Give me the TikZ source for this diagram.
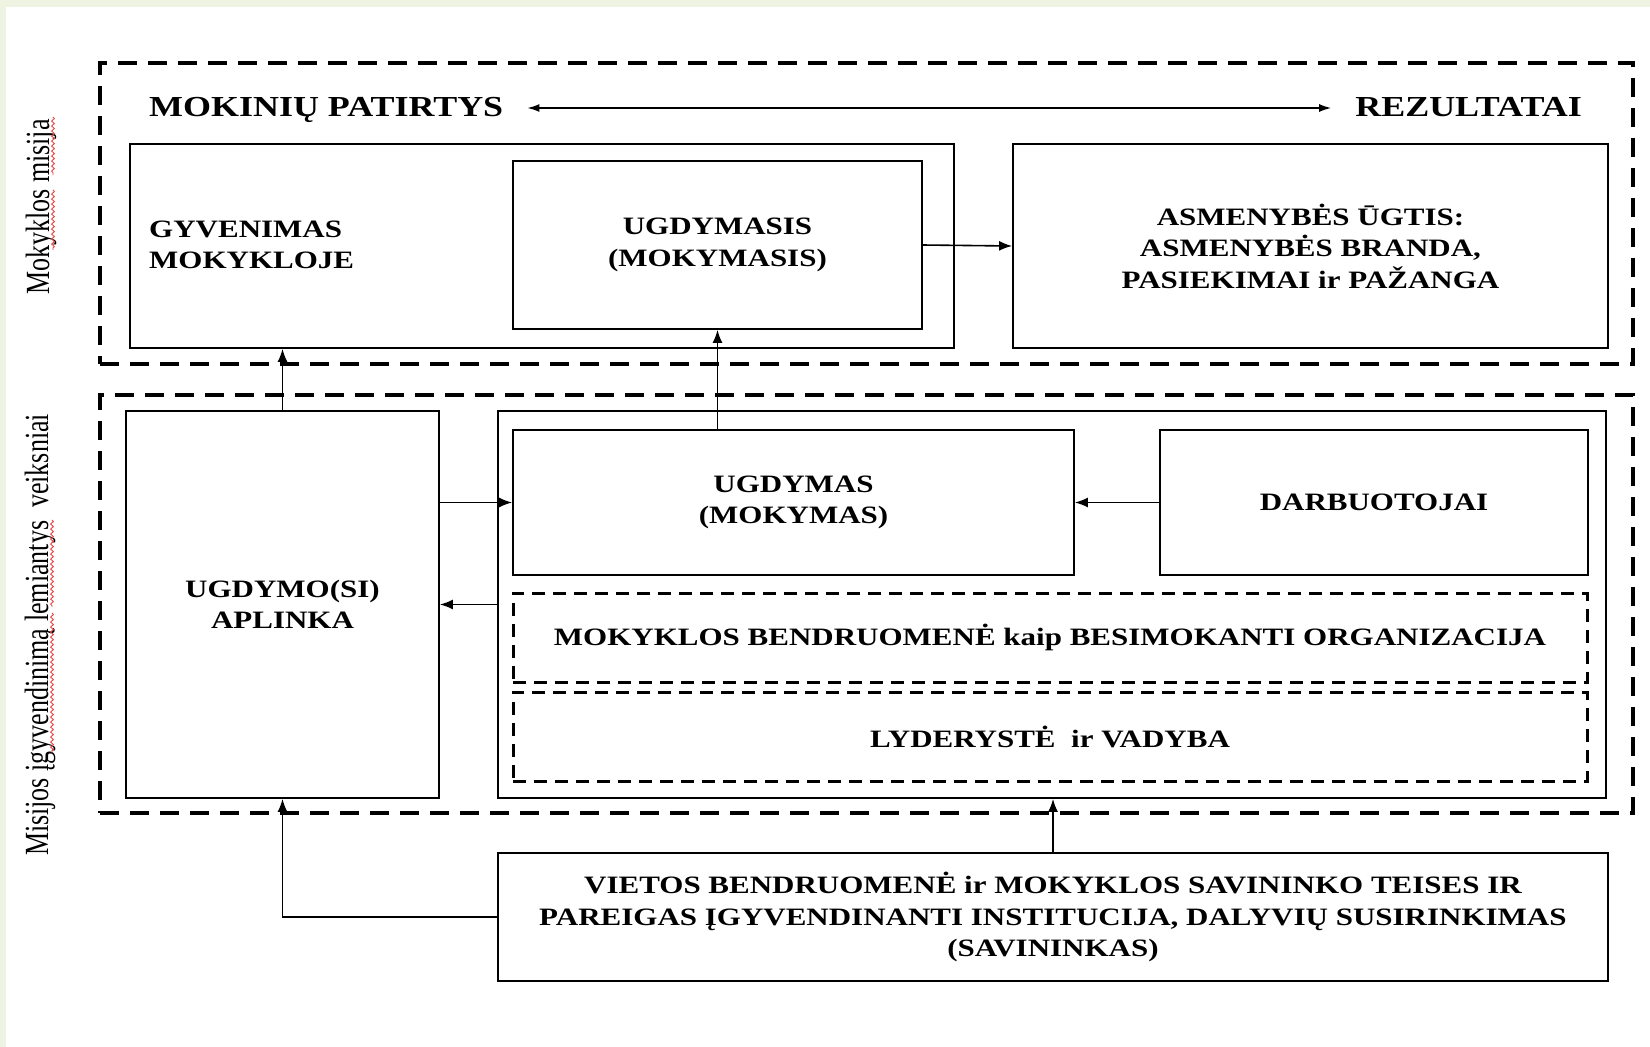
\documentclass[tikz,border=0pt]{standalone}
\usepackage{fontspec}
\usepackage{graphicx}
\setmainfont{Liberation Serif}
\newfontfamily\widefont{Liberation Serif}[FakeStretch=1.24]
\usetikzlibrary{arrows.meta,decorations.pathmorphing,fit}
\definecolor{bggreen}{RGB}{238,243,226}
\definecolor{wavyred}{RGB}{232,70,70}
\begin{document}
\begin{tikzpicture}[x=1pt,y=-1pt,
  box/.style={draw, line width=1.8pt, inner sep=0pt, align=center},
  outerdash/.style={draw, line width=3.4pt, dash pattern=on 19pt off 11pt, inner sep=0pt},
  innerdash/.style={draw, line width=3pt, dash pattern=on 13pt off 8pt, inner sep=0pt, align=center},
  txt/.style={font=\widefont\bfseries\fontsize{25}{31.5}\selectfont},
  head/.style={font=\widefont\bfseries\fontsize{29}{33}\selectfont, inner sep=0pt},
  side/.style={font=\fontsize{26}{30}\selectfont, inner sep=0pt, rotate=90, anchor=base},
  arr/.style={line width=1.6pt, -{Latex[length=13pt,width=10pt]}},
  dblarr/.style={line width=1.4pt, {Latex[length=12pt,width=8pt]}-{Latex[length=12pt,width=8pt]}},
  wavy/.style={wavyred, line width=0.9pt, decorate, decoration={snake, amplitude=1.4pt, segment length=5pt}}
]
\useasboundingbox (0,0) rectangle (1650,1047);
\fill[bggreen] (0,0) rectangle (1650,1047);
\fill[white] (6,7) rectangle (1650,1047);

% side labels
\node[side] (sidea) at (49,207) {\scalebox{1}[1.3]{Mokyklos misija}};
\node[side] (sideb) at (48,635) {\scalebox{1}[1.3]{Misijos įgyvendinimą lemiantys\ \ veiksniai}};
\draw[wavy] (53,117) -- (53,175);
\draw[wavy] (53,190) -- (53,250);
\draw[wavy] (52,520) -- (52,607);
\draw[wavy] (52,613) -- (52,753);

% outer dashed regions
\node[outerdash, fit={(100,63) (1633,364)}] (mission) {};
\node[outerdash, fit={(100,395) (1633,813)}] (factors) {};

% headings
\node[head, anchor=base west] (mok) at (149,116) {MOKINIŲ PATIRTYS};
\node[head, anchor=base east] (rez) at (1582,116) {REZULTATAI};
\draw[dblarr] ([shift={(24,-8)}]mok.base east) -- ([shift={(-24,-8)}]rez.base west);

% upper boxes
\node[box, fit={(130,144) (954,348)}] (gyv) {};
\node[txt, anchor=west, align=left, inner sep=0pt] (gyvtxt) at (149,245) {GYVENIMAS\\MOKYKLOJE};
\node[box, txt, fit={(513,161) (922,329)}] (ugds) {};
\node[txt, align=center] (ugdstxt) at (ugds.center) {UGDYMASIS\\(MOKYMASIS)};
\node[box, fit={(1013,144) (1608,348)}] (asm) {};
\node[txt, align=center] (asmtxt) at (asm.center) {ASMENYBĖS ŪGTIS:\\ASMENYBĖS BRANDA,\\PASIEKIMAI ir PAŽANGA};

% lower boxes
\node[box, fit={(126,411) (439,798)}] (apl) {};
\node[txt, align=center] (apltxt) at (apl.center) {UGDYMO(SI)\\APLINKA};
\node[box, fit={(498,411) (1606,798)}] (big) {};
\node[box, fit={(513,430) (1074,575)}] (ugd) {};
\node[txt, align=center] (ugdtxt) at (ugd.center) {UGDYMAS\\(MOKYMAS)};
\node[box, fit={(1160,430) (1588,575)}] (darb) {};
\node[txt] (darbtxt) at (darb.center) {DARBUOTOJAI};
\node[innerdash, fit={(513,593) (1587,682)}] (bendr) {};
\node[txt] (bendrtxt) at (bendr.center) {MOKYKLOS BENDRUOMENĖ kaip BESIMOKANTI ORGANIZACIJA};
\node[innerdash, fit={(513,692) (1587,781)}] (lyd) {};
\node[txt] (lydtxt) at (lyd.center) {LYDERYSTĖ\ \ ir VADYBA};

% owner box
\node[box, fit={(498,853) (1608,981)}] (viet) {};
\node[txt, align=center] (viettxt) at (viet.center) {VIETOS BENDRUOMENĖ ir MOKYKLOS SAVININKO TEISES IR\\PAREIGAS ĮGYVENDINANTI INSTITUCIJA, DALYVIŲ SUSIRINKIMAS\\(SAVININKAS)};

% connectors
\draw[arr] (apl.north) -- (apl.north |- gyv.south);
\draw[arr] (ugds.south |- ugd.north) -- (ugds.south);
\draw[arr] (ugds.east) -- (asm.west);
\draw[arr] (ugd.west -| apl.east) -- (ugd.west);
\draw[arr] (darb.west) -- (ugd.east);
\draw[arr] (big.west) -- (apl.east);
\draw[arr] (viet.north) -- (viet.north |- big.south);
\draw[arr] (viet.west) -| (apl.south);
\end{tikzpicture}
\end{document}
